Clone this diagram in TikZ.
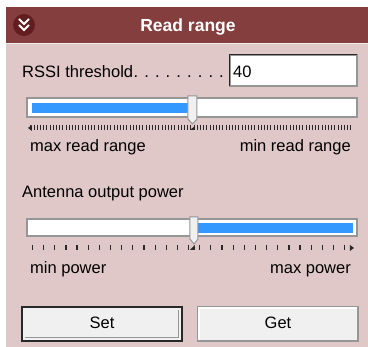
\documentclass[tikz,border=0pt]{standalone}
\usepackage{fontspec}
\setmainfont{Liberation Sans}
\definecolor{titlered}{RGB}{132,62,62}
\definecolor{iconred}{RGB}{98,30,30}
\definecolor{panelpink}{RGB}{225,200,200}
\definecolor{barblue}{RGB}{51,153,255}
\definecolor{btngray}{RGB}{240,240,240}
\definecolor{edgegray}{RGB}{150,150,150}
\definecolor{tickgray}{RGB}{40,40,40}

\begin{document}
\begin{tikzpicture}[x=1pt,y=-1pt,
    txt/.style={inner sep=0pt,font=\fontsize{16.5}{18}\selectfont},
    track/.style={fill=white,draw=edgegray,line width=1.5pt},
    thumb/.style={fill=btngray,draw=edgegray,line width=1pt},
    button/.style={fill=btngray,draw=edgegray,line width=1.5pt}]
   \useasboundingbox (0,0) rectangle (368,347);
   % panel and title bar
   \fill[panelpink] (6,43) rectangle (368,347);
   \fill[titlered] (6,7) rectangle (368,43);
   \draw[white!70!panelpink,line width=1pt] (6,43.5) -- (368,43.5);
   \fill[iconred] (24,25) circle (11);
   \draw[white,line width=2pt] (19,19) -- (24,24) -- (29,19) (19,25) -- (24,30) -- (29,25);
   \node[txt,anchor=base,text=white,font=\bfseries\fontsize{17.5}{19}\selectfont] (title) at (188,32) {Read range};
   % RSSI threshold
   \node[txt,anchor=base west] (rssi) at (22,78) {RSSI threshold};
   \node[txt,anchor=base east] (dots) at (224,78) {. . . . . . . . .};
   \draw[fill=white,draw=edgegray,line width=1.5pt] (230,55) rectangle (357,86);
   \draw[tickgray,line width=1pt] (230,86) |- (357,55);
   \node[txt,anchor=base west] (rssival) at (233,78) {40};
   % read range slider
   \begin{scope}
    \draw[track] (27,98) rectangle (357,117);
    \fill[barblue] (32,103) rectangle (188,113);
    \foreach \i in {0,...,100}
      \draw[tickgray,line width=1pt] (31+\i*3.2,125) -- (31+\i*3.2,130);
    \fill[tickgray] (28,128) -- (32,125) -- (32,131) -- cycle;
    \draw[thumb] (188,96) -- (197,96) -- (197,119) -- (192.5,124) -- (188,119) -- cycle;
    \fill[tickgray] (190,130) -- (195,126) -- (195,130) -- cycle;
    \node[txt,anchor=base west] (maxrange) at (30,152) {max read range};
    \node[txt,anchor=base east] (minrange) at (351,152) {min read range};
   \end{scope}
   % antenna output power slider
   \node[txt,anchor=base west] (antenna) at (22,198) {Antenna output power};
   \begin{scope}
    \draw[track] (27,219) rectangle (357,236);
    \fill[barblue] (197,223) rectangle (353,233);
    \foreach \i in {0,...,28}
      \draw[tickgray,line width=1.2pt] (32.5+\i*11.15,245) -- (32.5+\i*11.15,250);
    \fill[tickgray] (350,245) -- (354,248) -- (350,251) -- cycle;
    \draw[thumb] (190,217) -- (198,217) -- (198,239) -- (194,244) -- (190,239) -- cycle;
    \fill[tickgray] (190,250) -- (195,245) -- (195,250) -- cycle;
    \node[txt,anchor=base west] (minpower) at (30,274) {min power};
    \node[txt,anchor=base east] (maxpower) at (351,274) {max power};
   \end{scope}
   % buttons
   \draw[button,draw=tickgray] (22,307) rectangle (182,341);
   \draw[edgegray,line width=1pt] (25,338) -- (179,338) -- (179,310);
   \node[txt,anchor=base] (set) at (102,329) {Set};
   \draw[button] (198,307) rectangle (358,341);
   \draw[white,line width=1.5pt] (199,340) -- (199,308) -- (357,308);
   \node[txt,anchor=base] (get) at (278,329) {Get};
  \end{tikzpicture}
\end{document}
